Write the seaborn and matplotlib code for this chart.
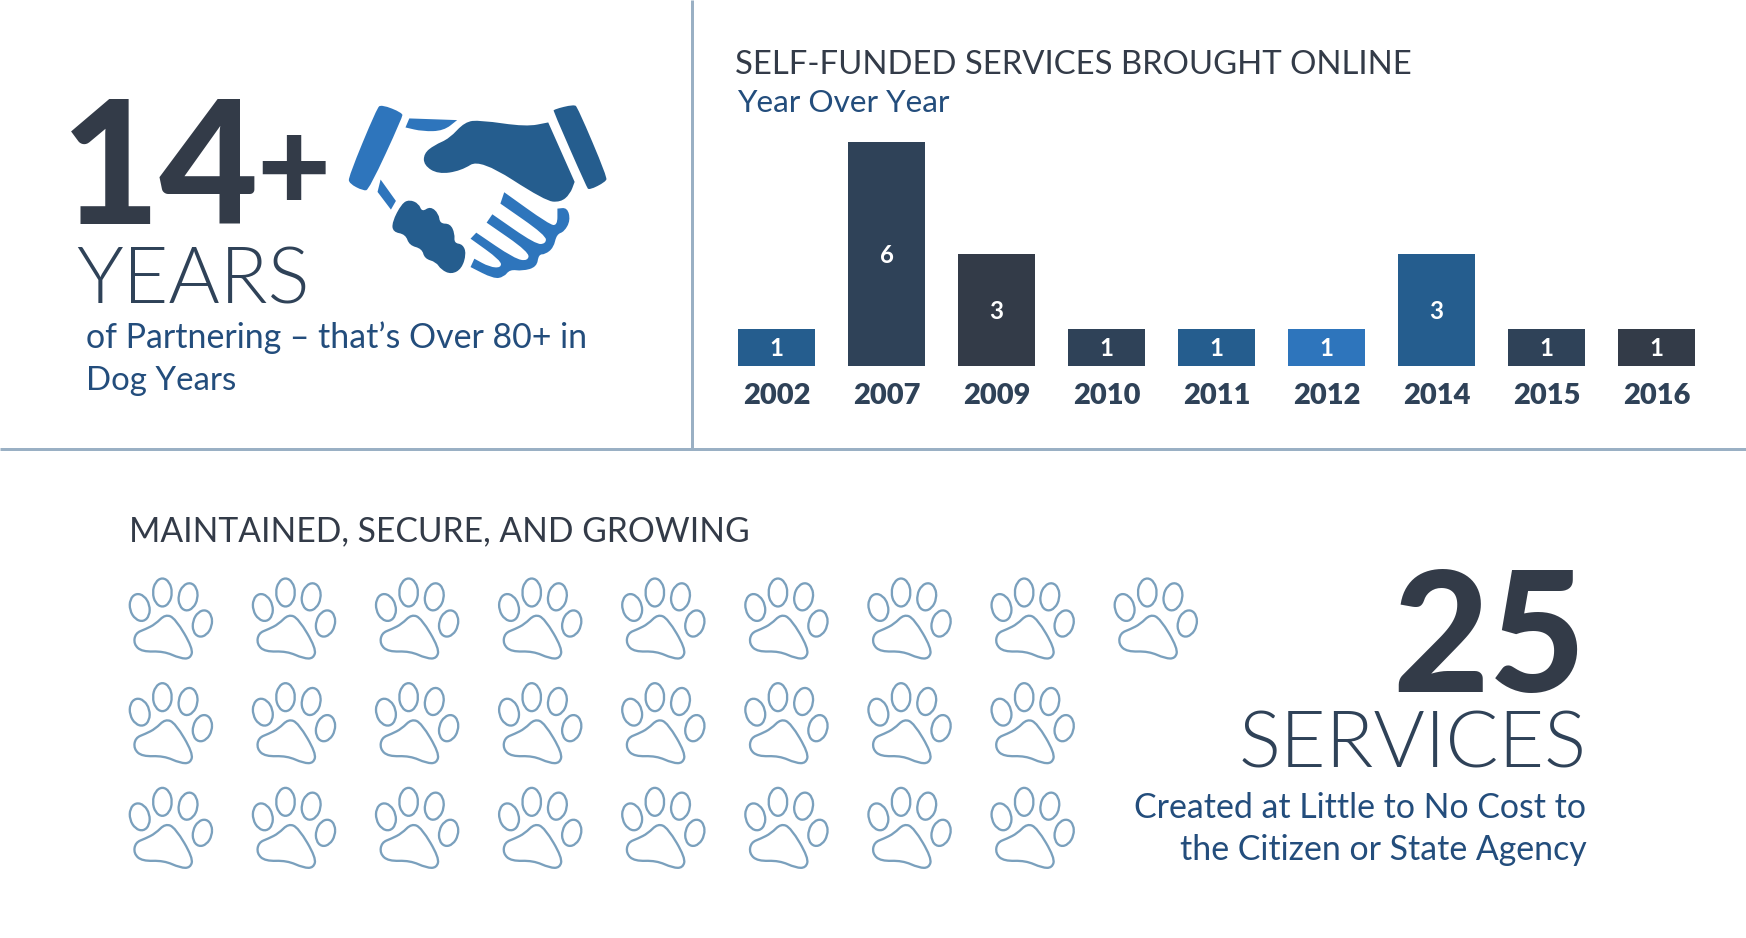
import matplotlib
matplotlib.use("Agg")
import matplotlib.pyplot as plt
import numpy as np
import seaborn as sns
from matplotlib.patches import PathPatch
from matplotlib.path import Path
from matplotlib.transforms import Affine2D

W, H = 1746, 938
DPI = 100

# chart data
YEARS = ["2002", "2007", "2009", "2010", "2011", "2012", "2014", "2015", "2016"]
SERVICES = [1, 6, 3, 1, 1, 1, 3, 1, 1]
PAWS_PER_ROW = [9, 8, 8]

NAVY = "#234d7c"
SLATE = "#2f4258"
INK = "#333b48"
MID_BLUE = "#255d8e"
LIGHT_BLUE = "#2e75bc"
RULE = "#9ab0c4"
PAW_LINE = "#7aa0bd"
BAR_COLORS = [MID_BLUE, SLATE, INK, SLATE, MID_BLUE, LIGHT_BLUE, MID_BLUE, SLATE, INK]


def smooth_path(points):
    """Closed quadratic spline through the midpoints of a control polygon."""
    pts = np.asarray(points, dtype=float)
    mids = (pts + np.roll(pts, -1, axis=0)) / 2
    verts = [mids[-1]]
    codes = [Path.MOVETO]
    for p, m in zip(pts, mids):
        verts += [p, m]
        codes += [Path.CURVE3, Path.CURVE3]
    return Path(verts, codes)


def blob(cx, cy, rx, ry, angle):
    t = np.deg2rad(np.arange(0, 360, 45))
    # 8 control points, pushed out a little so the curve reaches rx/ry
    x, y = 1.08 * rx * np.cos(t), 1.08 * ry * np.sin(t)
    a = np.deg2rad(angle)
    return np.column_stack([cx + x * np.cos(a) - y * np.sin(a), cy + x * np.sin(a) + y * np.cos(a)])


def make_paw():
    # outline, y flipped for the marker
    pad = [(135, 165), (165, 178), (218, 268), (210, 298), (180, 298), (130, 276), (65, 278),
           (40, 255), (45, 222), (75, 210), (105, 195)]
    parts = [
        smooth_path(pad),
        smooth_path(blob(58, 145, 29, 41, -15)),
        smooth_path(blob(126, 100, 28, 42, 0)),
        smooth_path(blob(203, 113, 28, 41, 10)),
        smooth_path(blob(246, 193, 28, 40, 15)),
    ]
    path = Path.make_compound_path(*parts)
    v = path.vertices.copy()
    v = (v - [152, 176]) / 3 * [1, -1]
    return Path(v, path.codes)


# handshake icon, outlines (zoom coordinates)
HAND_DARK = [
    [(1328, 157), (1328, 157), (1397, 335), (1397, 335), (1385, 372), (1360, 396), (1320, 392), (1150, 266),
     (1100, 302), (1040, 312), (1003, 285), (1003, 250), (1030, 225), (1070, 205), (1110, 155), (1150, 150), (1270, 170)],
    [(965, 388), (990, 400), (998, 425), (1020, 408), (1042, 430), (1045, 460), (1072, 460), (1084, 490), (1082, 518),
     (1105, 522), (1114, 550), (1102, 595), (1075, 612), (1048, 598), (1035, 575), (1005, 565), (998, 535), (965, 525),
     (955, 492), (922, 485), (920, 455), (945, 400)],
    [(1342, 125), (1342, 118), (1395, 103), (1405, 112), (1482, 320), (1478, 335), (1435, 360), (1428, 350)],
]
HAND_LIGHT = [
    [(892, 103), (947, 128), (947, 142), (860, 358), (845, 362), (808, 340), (806, 320), (880, 115)],
    [(965, 145), (965, 145), (1090, 150), (1090, 150), (1055, 182), (1000, 184), (955, 172), (955, 172)],
    [(890, 328), (890, 328), (930, 392), (930, 392), (917, 418), (917, 418), (882, 365), (882, 365)],
    [(1213, 366), (1213, 366), (1330, 462), (1352, 466), (1352, 415), (1352, 415), (1378, 412), (1386, 450),
     (1370, 484), (1350, 492), (1342, 532), (1320, 552), (1303, 552), (1298, 590), (1260, 602), (1228, 597),
     (1212, 620), (1185, 625), (1125, 590), (1125, 590), (1135, 565), (1135, 565), (1175, 590), (1205, 592),
     (1204, 570), (1125, 505), (1125, 505), (1140, 487), (1140, 487), (1240, 565), (1275, 572), (1278, 545),
     (1167, 457), (1167, 457), (1182, 432), (1182, 432), (1295, 522), (1322, 520), (1322, 495), (1203, 400), (1203, 400)],
]

sns.set_theme(style="white")
plt.rcParams["font.family"] = ["Lato", "DejaVu Sans"]

fig = plt.figure(figsize=(W / DPI, H / DPI), dpi=DPI, facecolor="white")


def add_axes_px(left, top, width, height):
    return fig.add_axes([left / W, 1 - (top + height) / H, width / W, height / H])


def pt(px):
    return px * 72 / DPI


# page layer in pixel coordinates, for rules, headline text and the icon
page = add_axes_px(0, 0, W, H)
page.set_xlim(0, W)
page.set_ylim(H, 0)
page.axis("off")

page.plot([0, W], [449, 449], color=RULE, lw=pt(3), solid_capstyle="butt")
page.plot([692, 692], [0, 449], color=RULE, lw=pt(3), solid_capstyle="butt")


def label(x, y, s, size, color, weight="normal", ha="left"):
    page.text(x, y, s, fontsize=pt(size), color=color, fontweight=weight, ha=ha, va="baseline")


label(61, 224, "14", 171, INK, weight="black")
label(256, 211, "+", 128, INK, weight="black")
label(76, 303, "YEARS", 78.5, SLATE, weight=300)
label(86, 348, "of Partnering \u2013 that\u2019s Over 80+ in", 33.9, NAVY)
label(86, 390, "Dog Years", 33, NAVY)

label(735, 74, "SELF-FUNDED SERVICES BROUGHT ONLINE", 32.9, INK)
label(737, 112, "Year Over Year", 31.5, NAVY)

label(129, 541, "MAINTAINED, SECURE, AND GROWING", 33.7, INK)
label(1586, 692, "25", 167, INK, weight="black", ha="right")
label(1587, 767, "SERVICES", 78.5, SLATE, weight=300, ha="right")
label(1586, 818, "Created at Little to No Cost to", 33.9, NAVY, ha="right")
label(1587, 860, "the Citizen or State Agency", 33.9, NAVY, ha="right")

icon_tf = Affine2D().scale(0.3827, 0.334).translate(40, 70) + page.transData
for color, shapes in [(MID_BLUE, HAND_DARK), (LIGHT_BLUE, HAND_LIGHT)]:
    for shape in shapes:
        page.add_patch(PathPatch(smooth_path(shape), facecolor=color, edgecolor="none", transform=icon_tf))

# bar chart
ax = add_axes_px(721.5, 142, 990, 224)
sns.barplot(x=YEARS, y=SERVICES, hue=YEARS, palette=BAR_COLORS, saturation=1, width=0.7, linewidth=0, legend=False, ax=ax)
ax.set_xlim(-0.5, 8.5)
ax.set_ylim(0, 6)
ax.patch.set_alpha(0)
sns.despine(ax=ax, left=True, bottom=True)
ax.set_yticks([])
ax.set_ylabel("")
ax.tick_params(axis="x", length=0, pad=pt(17), labelsize=pt(29), labelcolor=SLATE)
for tick in ax.get_xticklabels():
    tick.set_fontweight(800)
    tick.set_x(tick.get_position()[0])
for container in ax.containers:
    ax.bar_label(container, label_type="center", color="white", fontsize=pt(24), fontweight="bold", padding=-1)

# paws, one per service
paw = make_paw()
cols = np.concatenate([np.arange(n) for n in PAWS_PER_ROW])
rows = np.repeat(np.arange(len(PAWS_PER_ROW)), PAWS_PER_ROW)
paw_ax = add_axes_px(109.5, 565.5, 1108, 314)
# marker paths get normalised by their largest coordinate
paw_s = (2 * np.abs(paw.vertices).max() * 72 / DPI) ** 2
sns.scatterplot(x=cols, y=rows, marker=paw, s=paw_s, facecolor="none", edgecolor=PAW_LINE, linewidth=pt(2.3), ax=paw_ax)
paw_ax.set_xlim(-0.5, 8.5)
paw_ax.set_ylim(2.5, -0.5)
paw_ax.axis("off")

fig.savefig("out.png", dpi=DPI, facecolor="white")
